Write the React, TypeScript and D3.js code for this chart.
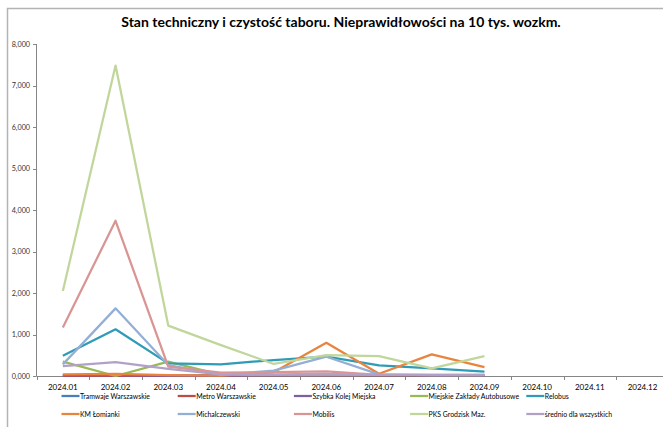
import React from 'react';
import * as d3 from 'd3';

const months = ['2024.01', '2024.02', '2024.03', '2024.04', '2024.05', '2024.06',
    '2024.07', '2024.08', '2024.09', '2024.10', '2024.11', '2024.12'];

const seriesNames = ['Tramwaje Warszawskie', 'Metro Warszawskie', 'Szybka Kolej Miejska',
    'Miejskie Zakłady Autobusowe', 'Relobus', 'KM Łomianki', 'Michalczewski', 'Mobilis',
    'PKS Grodzisk Maz.', 'średnio dla wszystkich'];

const seriesColors = ['#4a7ebb', '#be4b48', '#7d60a0', '#98b954', '#2f9bb7',
    '#e8843e', '#93afd6', '#d99593', '#c1d69a', '#b2a1c7'];

// values up to 2024.09, later months are empty
const tramwaje = [15, 15, 10, 10, 10, 10, 10, 10, 10];
const metro = [5, 5, 5, 5, 5, 5, 5, 5, 5];
const skm = [20, 20, 10, 10, 10, 10, 10, 10, 10];
const mza = [345, 0, 345, 25, 20, 20, 20, 20, 20];
const relobus = [490, 1125, 305, 280, 385, 465, 258, 185, 105];
const lomianki = [40, 50, 20, 10, 90, 800, 55, 520, 215];
const michalczewski = [280, 1630, 265, 25, 130, 465, 40, 20, 20];
const mobilis = [1170, 3740, 225, 80, 95, 110, 30, 30, 30];
const pks = [2050, 7480, 1215, 745, 290, 505, 480, 185, 480];
const srednio = [240, 335, 170, 40, 40, 50, 30, 30, 30];

const seriesValues = [tramwaje, metro, skm, mza, relobus, lomianki, michalczewski, mobilis, pks, srednio];

const yTicks = [0, 1000, 2000, 3000, 4000, 5000, 6000, 7000, 8000];

const font = 'Lato, "Open Sans", sans-serif';

export default function App()
{
    const width = 663;
    const height = 427;

    const x = d3.scaleBand<string>()
        .domain(months)
        .range([36.5, 36.5 + 52.7 * 12]);

    const y = d3.scaleLinear()
        .domain([0, 8000])
        .range([376, 44]);

    const line = d3.line<number>()
        .x((d, i) => (x(months[i]) as number) + x.bandwidth() / 2)
        .y(d => y(d));

    const fmt = d3.format(',.3f');

    let legendX = d3.scaleLinear().domain([0, 1]).range([61.5, 177.7]);
    let legendY = [396, 414];

    return (
        <svg width={width} height={height} style={{position: 'absolute', left: 0, top: 0}}>
            <rect x={0} y={0} width={width} height={height} fill="#ffffff" />
            <rect x={7.5} y={8.5} width={700} height={500} fill="#ffffff" stroke="#b3b3b3" strokeWidth={1.5} />
            <text x={341} y={27} textAnchor="middle" fontFamily={font} fontWeight="bold"
                  fontSize={14} fill="#000">
                Stan techniczny i czystość taboru. Nieprawidłowości na 10 tys. wozkm.
            </text>

            {/* y axis */}
            <line x1={36.5} x2={36.5} y1={y(8000)} y2={y(0)} stroke="#868686" strokeWidth={1} />
            {yTicks.map(t => (
                <g key={t}>
                    <line x1={33} x2={36.5} y1={Math.round(y(t)) + 0.5} y2={Math.round(y(t)) + 0.5}
                          stroke="#868686" />
                    <text x={30} y={y(t) + 2.5} textAnchor="end" fontFamily={font} fontSize={7.2}
                          fill="#333">{fmt(t / 1000).replace('.', ',')}</text>
                </g>
            ))}

            {/* x axis */}
            <line x1={36.5} x2={680} y1={376.5} y2={376.5} stroke="#868686" strokeWidth={1} />
            {months.map(m => (
                <g key={m}>
                    <line x1={Math.round(x(m) as number) + 0.5} x2={Math.round(x(m) as number) + 0.5}
                          y1={376.5} y2={380} stroke="#868686" />
                    <text x={(x(m) as number) + x.bandwidth() / 2} y={390} textAnchor="middle"
                          fontFamily={font} fontSize={8} fill="#000">{m}</text>
                </g>
            ))}

            {seriesValues.map((vals, i) => (
                <path key={seriesNames[i]} d={line(vals) as string} fill="none"
                      stroke={seriesColors[i]} strokeWidth={2.25} strokeLinejoin="round" />
            ))}

            {/* legend */}
            {seriesNames.map((name, i) => {
                let lx = legendX(i % 5);
                let ly = legendY[Math.floor(i / 5)];
                return (
                    <g key={name}>
                        <line x1={lx} x2={lx + 18} y1={ly} y2={ly} stroke={seriesColors[i]} strokeWidth={2.25} />
                        <text x={lx + 18.5} y={ly + 2.5} fontFamily={font} fontSize={6.9} fill="#000">{name}</text>
                    </g>
                );
            })}
        </svg>
    );
}
